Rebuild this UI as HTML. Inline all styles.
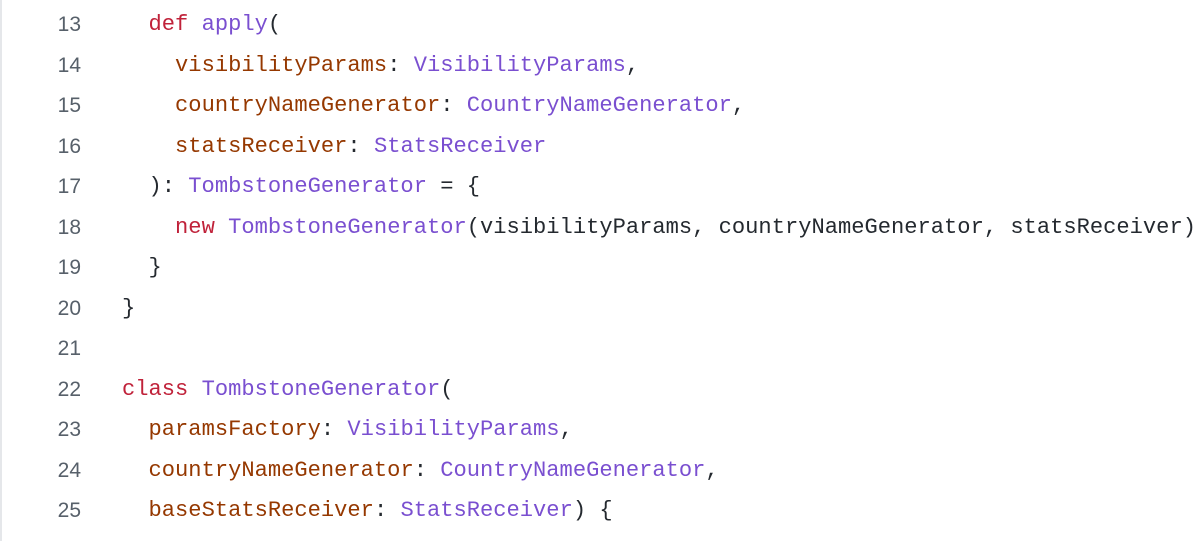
<!DOCTYPE html>
<html><head><meta charset="utf-8"><style>
html,body{margin:0;padding:0;background:#fff;width:1200px;height:541px;overflow:hidden}
.b{position:absolute;left:0;top:0;width:2px;height:541px;background:#e5e7ea}
.ln{position:absolute;left:0;width:81px;text-align:right;font:21px "Liberation Sans",sans-serif;color:#57606a;line-height:40.5px}
.code{position:absolute;left:122px;top:5px;font:22.1px "Liberation Mono",monospace;color:#24292f;white-space:pre;line-height:40.5px}
.k{color:#c0223a}.f{color:#7a4fd0}.p{color:#953800}
</style></head><body>
<div class="b"></div>
<div class="ln" style="top:5px">13<br>14<br>15<br>16<br>17<br>18<br>19<br>20<br>21<br>22<br>23<br>24<br>25</div>
<div class="code">  <span class="k">def</span> <span class="f">apply</span>(
    <span class="p">visibilityParams</span>: <span class="f">VisibilityParams</span>,
    <span class="p">countryNameGenerator</span>: <span class="f">CountryNameGenerator</span>,
    <span class="p">statsReceiver</span>: <span class="f">StatsReceiver</span>
  ): <span class="f">TombstoneGenerator</span> = {
    <span class="k">new</span> <span class="f">TombstoneGenerator</span>(visibilityParams, countryNameGenerator, statsReceiver)
  }
}

<span class="k">class</span> <span class="f">TombstoneGenerator</span>(
  <span class="p">paramsFactory</span>: <span class="f">VisibilityParams</span>,
  <span class="p">countryNameGenerator</span>: <span class="f">CountryNameGenerator</span>,
  <span class="p">baseStatsReceiver</span>: <span class="f">StatsReceiver</span>) {</div>
</body></html>
